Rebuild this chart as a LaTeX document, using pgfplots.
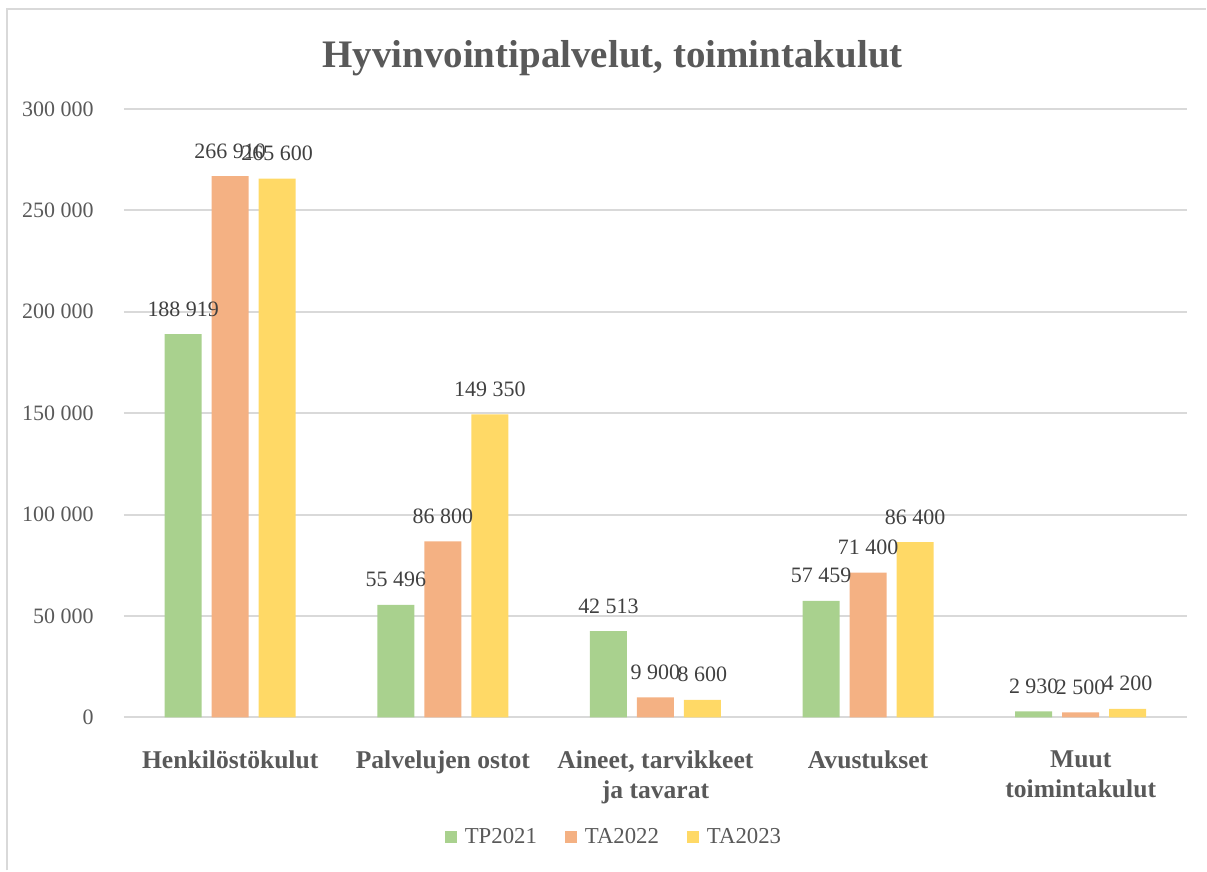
\documentclass[border=0pt]{standalone}
\usepackage{pgfplots}
\pgfplotsset{compat=1.18}
\usepackage{fontspec}
\setmainfont{Liberation Serif}
\definecolor{cgreen}{HTML}{A9D18E}
\definecolor{corange}{HTML}{F4B183}
\definecolor{cyellow}{HTML}{FFD966}
\definecolor{gridc}{HTML}{D9D9D9}
\definecolor{textc}{HTML}{595959}
\definecolor{labelc}{HTML}{404040}
\begin{document}
\begin{tikzpicture}
\path (0,0) rectangle (603.5pt,435.5pt);
\draw[gridc, line width=1pt] (3.5pt,0) -- (3.5pt,431pt) -- (603.5pt,431pt);
\node[anchor=base, text=textc, font=\bfseries\fontsize{19.5}{23}\selectfont] at (306.5pt,401.5pt) {Hyvinvointipalvelut, toimintakulut};
\begin{axis}[
  at={(62pt,76.5pt)}, anchor=south west,
  scale only axis, width=532pt, height=304.5pt,
  xmin=-0.5, xmax=4.5, ymin=0, ymax=300000,
  ybar, bar width=0.174,
  xtick={0,1,2,3,4},
  xticklabels={Henkilöstökulut, Palvelujen ostot, {Aineet, tarvikkeet\\ja tavarat}, Avustukset, {Muut\\toimintakulut}},
  ytick={0,50000,100000,150000,200000,250000,300000},
  scaled y ticks=false,
  /pgf/number format/.cd, fixed, precision=0, 1000 sep={\ }, assume math mode=true, /pgfplots/.cd,
  axis line style={draw=none},
  tick style={draw=none},
  ymajorgrids, major grid style={gridc, line width=1pt},
  yticklabel style={text=textc, font=\fontsize{11}{13}\selectfont, anchor=east, inner sep=0pt, xshift=-15pt},
  xticklabel style={text=textc, font=\bfseries\fontsize{12.8}{15}\selectfont, align=center, anchor=north, inner sep=0pt, yshift=-12.3pt},
  nodes near coords,
  every node near coord/.append style={text=labelc, font=\fontsize{11}{13}\selectfont, anchor=base, yshift=9pt},
  legend style={at={(0.460,-0.197)}, anchor=center, draw=none, legend columns=3,
    font=\fontsize{11.4}{13}\selectfont, text=textc,
    nodes={inner sep=0pt},
    /tikz/every odd column/.append style={column sep=4pt},
    /tikz/every even column/.append style={column sep=14pt}},
  legend image code/.code={\fill[#1] (0pt,-3pt) rectangle (6pt,3pt);},
  clip=false,
]
\addplot[draw=none, fill=cgreen, bar shift=-0.221] coordinates {(0,188919) (1,55496) (2,42513) (3,57459) (4,2930)};
\addplot[draw=none, fill=corange, bar shift=0] coordinates {(0,266910) (1,86800) (2,9900) (3,71400) (4,2500)};
\addplot[draw=none, fill=cyellow, bar shift=0.221] coordinates {(0,265600) (1,149350) (2,8600) (3,86400) (4,4200)};
\legend{TP2021, TA2022, TA2023}
\end{axis}
\end{tikzpicture}
\end{document}
